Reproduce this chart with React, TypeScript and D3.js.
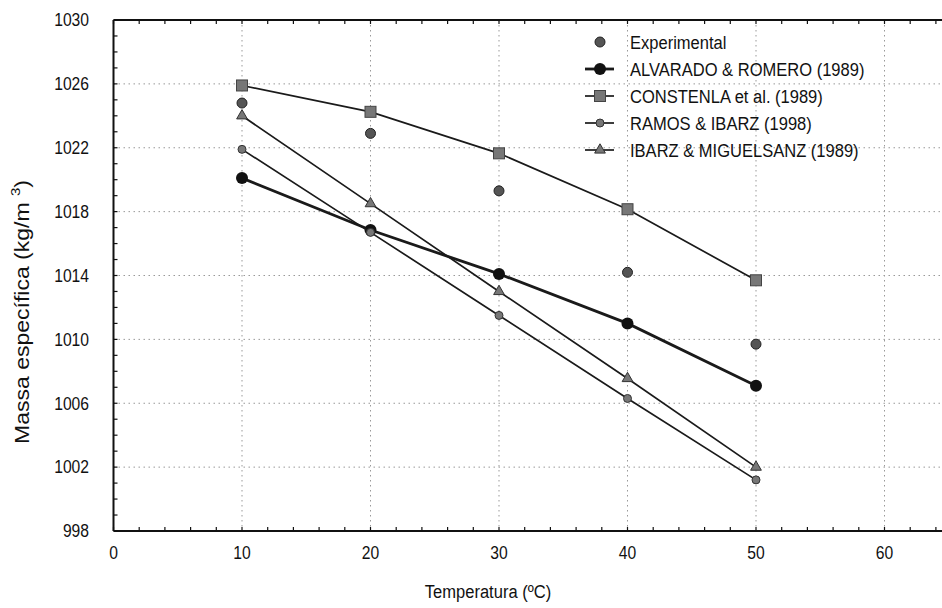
import React from 'react';
import * as d3 from 'd3';

const temps = [10, 20, 30, 40, 50];
const experimental = [1024.8, 1022.9, 1019.3, 1014.2, 1009.7];
const alvarado = [1020.1, 1016.85, 1014.1, 1011.0, 1007.1];
const constenla = [1025.9, 1024.25, 1021.65, 1018.15, 1013.7];
const ramos = [1021.9, 1016.7, 1011.5, 1006.3, 1001.2];
const ibarz = [1024.0, 1018.5, 1013.0, 1007.55, 1002.0];

const xTicks = [0, 10, 20, 30, 40, 50, 60];
const yTicks = [998, 1002, 1006, 1010, 1014, 1018, 1022, 1026, 1030];
const legendLabels = [
  'Experimental',
  'ALVARADO & ROMERO (1989)',
  'CONSTENLA et al. (1989)',
  'RAMOS & IBARZ (1998)',
  'IBARZ & MIGUELSANZ (1989)',
];

const W = 942;
const H = 608;
const font = 'Liberation Sans, Arial, sans-serif';
const squeeze = 0.87; // the scan is a little narrow, text looks condensed

const x = d3.scaleLinear().domain([0, 65]).range([113.5, 113.5 + 65 * 12.85]);
const y = d3.scaleLinear().domain([998, 1030]).range([531, 20]);

const line = d3.line<number>()
  .x((_, i) => x(temps[i]))
  .y(d => y(d));

// condensed text
const CText = ({ x: tx, y: ty, anchor = 'start', size, children }: any) => (
  <text transform={`translate(${tx},${ty}) scale(${squeeze},1)`} textAnchor={anchor} dy="0.35em"
    fontSize={size} fill="#111">{children}</text>
);

const Marker = ({ kind, cx, cy }: { kind: string; cx: number; cy: number }) => {
  if (kind === 'exp') return <circle cx={cx} cy={cy} r={5} fill="#555" stroke="#222" strokeWidth={1} />;
  if (kind === 'alv') return <circle cx={cx} cy={cy} r={6} fill="#111" />;
  if (kind === 'con') return <rect x={cx - 5.5} y={cy - 5.5} width={11} height={11} fill="#777" stroke="#444" strokeWidth={1} />;
  if (kind === 'ram') return <circle cx={cx} cy={cy} r={4} fill="#777" stroke="#333" strokeWidth={1} />;
  const tri = d3.symbol().type(d3.symbolTriangle).size(50)();
  return <path d={tri || ''} transform={`translate(${cx},${cy})`} fill="#777" stroke="#333" strokeWidth={1} />;
};

const series = [
  { kind: 'exp', values: experimental, line: false, width: 0 },
  { kind: 'alv', values: alvarado, line: true, width: 2.8 },
  { kind: 'con', values: constenla, line: true, width: 1.7 },
  { kind: 'ram', values: ramos, line: true, width: 1.7 },
  { kind: 'tri', values: ibarz, line: true, width: 1.7 },
];

export default function App() {
  const [x0, x1] = x.range();
  const yTop = y(1030);
  const yBot = y(998);
  const minorX = d3.range(0, 66, 2);
  const minorY = d3.range(998, 1031, 1);

  return (
    <svg width={W} height={H} style={{ position: 'absolute', left: 0, top: 0, background: '#fff' }}
      fontFamily={font}>
      {/* grid */}
      {yTicks.slice(1, -1).map(t => (
        <line key={'gy' + t} x1={x0} x2={x1} y1={y(t)} y2={y(t)} stroke="#999" strokeWidth={1} strokeDasharray="1.5,3.5" />
      ))}
      {xTicks.slice(1).map(t => (
        <line key={'gx' + t} x1={x(t)} x2={x(t)} y1={yTop} y2={yBot} stroke="#999" strokeWidth={1} strokeDasharray="1.5,3.5" />
      ))}

      {/* frame */}
      <line x1={x0} x2={x1} y1={yTop} y2={yTop} stroke="#111" strokeWidth={2} />
      <line x1={x0} x2={x1} y1={yBot} y2={yBot} stroke="#111" strokeWidth={2} />
      <line x1={x0} x2={x0} y1={yTop} y2={yBot} stroke="#111" strokeWidth={2} />

      {/* minor ticks */}
      {minorX.map(t => (
        <g key={'mx' + t}>
          <line x1={x(t)} x2={x(t)} y1={yBot} y2={yBot - 4} stroke="#111" strokeWidth={1.2} />
          <line x1={x(t)} x2={x(t)} y1={yTop} y2={yTop + 4} stroke="#111" strokeWidth={1.2} />
        </g>
      ))}
      {minorY.map(t => (
        <line key={'my' + t} x1={x0} x2={x0 + 4} y1={y(t)} y2={y(t)} stroke="#111" strokeWidth={1.2} />
      ))}

      {/* tick labels */}
      {yTicks.map(t => (
        <CText key={'ly' + t} x={89} y={y(t)} anchor="end" size={18}>{t}</CText>
      ))}
      {xTicks.map(t => (
        <CText key={'lx' + t} x={x(t)} y={553} anchor="middle" size={18}>{t}</CText>
      ))}

      {/* axis titles */}
      <text transform={`translate(29,312) scale(${squeeze},1) rotate(-90)`} textAnchor="middle" fontSize={23} fill="#111">
        Massa específica (kg/m <tspan dy={-10} fontSize={15}>3</tspan><tspan dy={10}>)</tspan>
      </text>
      <CText x={488} y={591} anchor="middle" size={19}>Temperatura (ºC)</CText>

      {/* series */}
      {series.map(s => (
        <g key={s.kind}>
          {s.line && <path d={line(s.values) || ''} fill="none" stroke="#1a1a1a" strokeWidth={s.width} />}
          {s.values.map((v, i) => (
            <Marker key={i} kind={s.kind} cx={x(temps[i])} cy={y(v)} />
          ))}
        </g>
      ))}

      {/* legend */}
      {legendLabels.map((label, i) => {
        const ly = 42 + i * 27;
        const s = series[i];
        return (
          <g key={label}>
            {s.line && <line x1={585} x2={614} y1={ly} y2={ly} stroke="#1a1a1a" strokeWidth={s.width} />}
            <Marker kind={s.kind} cx={600} cy={ly} />
            <CText x={630} y={ly} size={19}>{label}</CText>
          </g>
        );
      })}
    </svg>
  );
}
